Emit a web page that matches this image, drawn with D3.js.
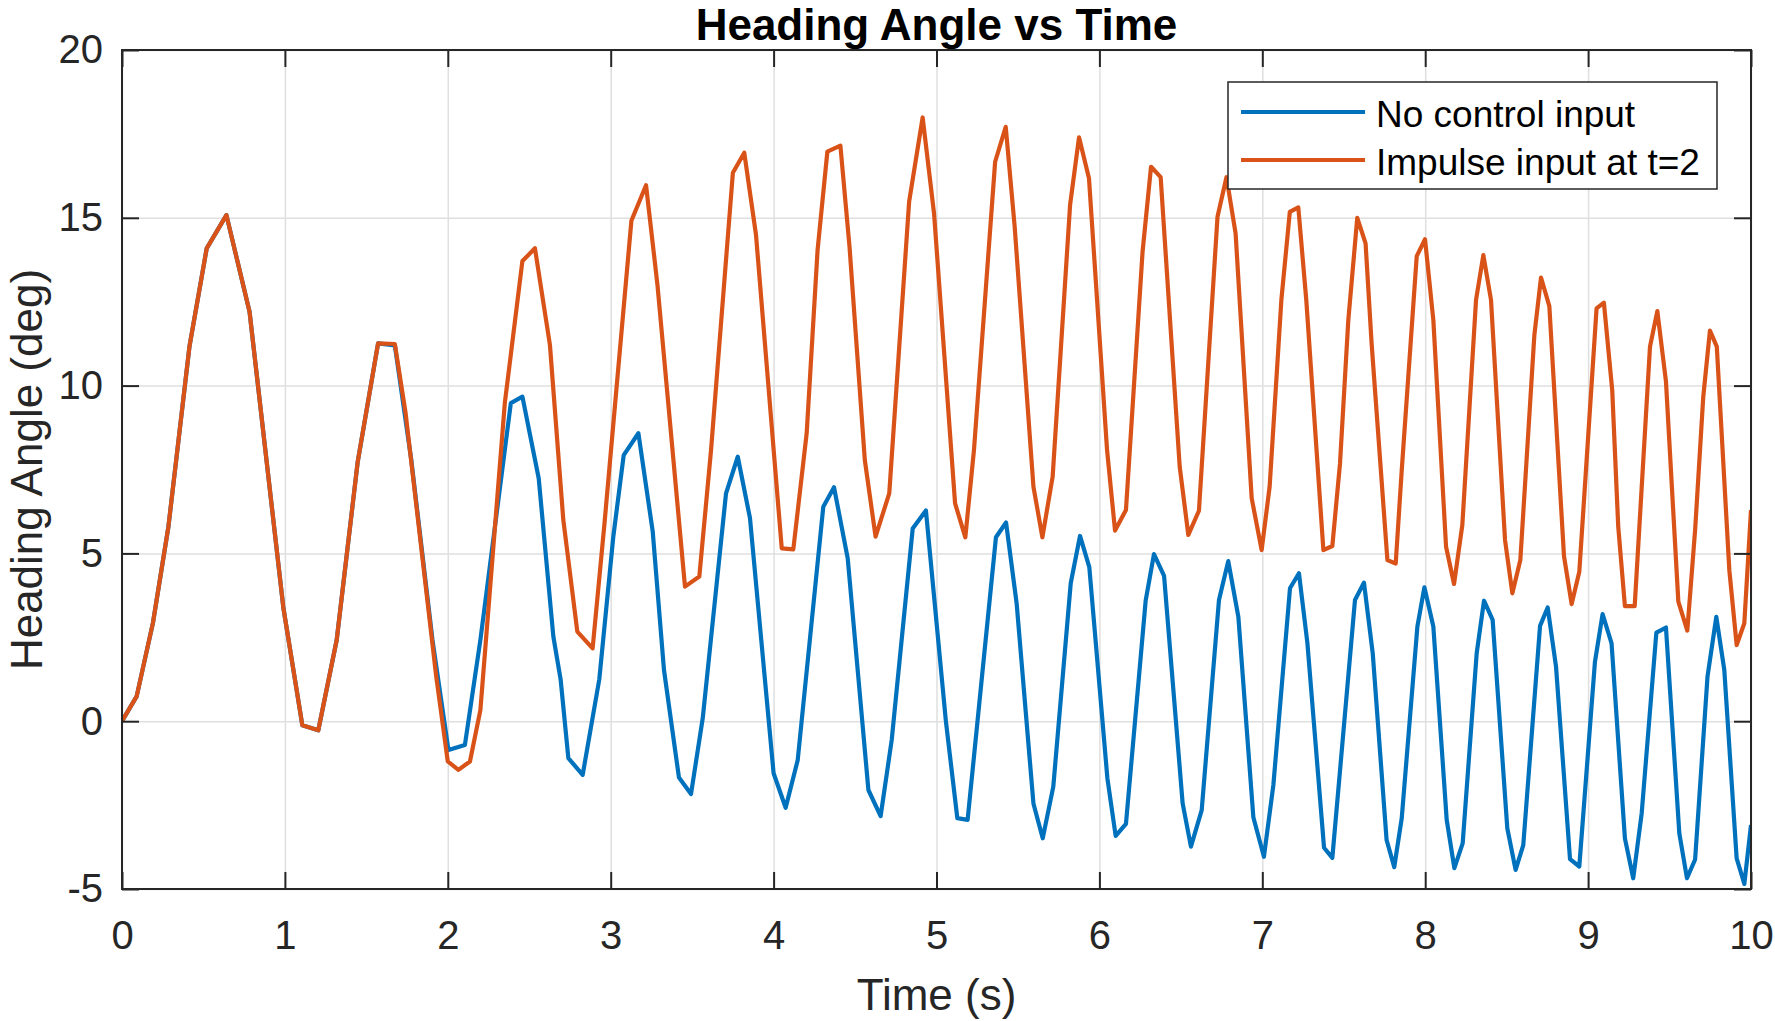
<!DOCTYPE html>
<html>
<head>
<meta charset="utf-8">
<script src="https://cdn.jsdelivr.net/npm/d3@7"></script>
<style>
  body { margin: 0; background: #fff; }
  text { font-family: "Liberation Sans", Arial, Helvetica, sans-serif; }
</style>
</head>
<body>
<div id="chart"></div>
<script>
// ---- data ----
const xTicks = [0, 1, 2, 3, 4, 5, 6, 7, 8, 9, 10];
const yTicks = [-5, 0, 5, 10, 15, 20];
const seriesNames = ["No control input", "Impulse input at t=2"];

// no control input
const tNoCtrl = [0, 0.09, 0.19, 0.285, 0.414, 0.52, 0.641, 0.783, 0.99, 1.107, 1.205, 1.318, 1.447, 1.572, 1.675,
  1.776, 1.906, 2.004, 2.105, 2.2, 2.387, 2.458, 2.558, 2.648, 2.693, 2.74, 2.828, 2.93, 3.016, 3.08, 3.17,
  3.258, 3.327, 3.419, 3.493, 3.565, 3.708, 3.78, 3.855, 4.0, 4.074, 4.148, 4.305, 4.371, 4.455, 4.582, 4.657,
  4.725, 4.854, 4.935, 5.058, 5.128, 5.191, 5.365, 5.427, 5.492, 5.595, 5.652, 5.717, 5.824, 5.881, 5.938,
  6.049, 6.1, 6.163, 6.284, 6.335, 6.397, 6.511, 6.562, 6.628, 6.734, 6.791, 6.853, 6.945, 7.01, 7.068, 7.17,
  7.225, 7.277, 7.379, 7.43, 7.569, 7.624, 7.678, 7.763, 7.81, 7.856, 7.952, 7.995, 8.05, 8.132, 8.179, 8.23,
  8.316, 8.361, 8.414, 8.504, 8.555, 8.602, 8.705, 8.752, 8.803, 8.889, 8.946, 9.042, 9.089, 9.144, 9.226,
  9.277, 9.329, 9.419, 9.478, 9.56, 9.607, 9.657, 9.733, 9.787, 9.836, 9.912, 9.959, 10.0];
const hNoCtrl = [0, 0.74, 2.93, 5.8, 11.16, 14.09, 15.08, 12.2, 3.4, -0.12, -0.27, 2.42, 7.73, 11.26, 11.2,
  7.78, 2.42, -0.86, -0.71, 2.42, 9.48, 9.67, 7.24, 2.52, 1.23, -1.1, -1.6, 1.25, 5.5, 7.93, 8.58,
  5.65, 1.53, -1.68, -2.17, 0.09, 6.79, 7.88, 6.05, -1.55, -2.58, -1.16, 6.39, 6.97, 4.85, -2.05, -2.83,
  -0.56, 5.74, 6.28, -0.02, -2.89, -2.94, 5.48, 5.92, 3.51, -2.45, -3.49, -1.95, 4.11, 5.52, 4.59,
  -1.7, -3.42, -3.06, 3.59, 4.98, 4.33, -2.45, -3.74, -2.65, 3.61, 4.77, 3.11, -2.86, -4.04, -1.9, 3.96,
  4.41, 2.32, -3.77, -4.07, 3.61, 4.13, 2.02, -3.54, -4.35, -2.89, 2.82, 3.99, 2.82, -2.94, -4.38, -3.64,
  2.02, 3.59, 3.02, -3.19, -4.43, -3.69, 2.84, 3.39, 1.63, -4.11, -4.33, 1.77, 3.19, 2.32, -3.49,
  -4.68, -2.74, 2.64, 2.79, -3.34, -4.68, -4.12, 1.33, 3.11, 1.53, -4.09, -4.85, -3.09];

// impulse input at t=2
const tImpulse = [0, 0.09, 0.19, 0.285, 0.414, 0.52, 0.641, 0.783, 0.99, 1.107, 1.205, 1.318, 1.447, 1.572, 1.675,
  1.741, 1.929, 2.0, 2.065, 2.136, 2.2, 2.35, 2.458, 2.535, 2.627, 2.709, 2.795, 2.889, 2.962, 3.127, 3.217,
  3.287, 3.456, 3.544, 3.616, 3.75, 3.82, 3.892, 4.05, 4.121, 4.203, 4.27, 4.33, 4.41, 4.466, 4.56, 4.626,
  4.71, 4.832, 4.915, 4.985, 5.114, 5.177, 5.23, 5.36, 5.425, 5.48, 5.595, 5.65, 5.713, 5.82, 5.875, 5.936,
  6.047, 6.096, 6.163, 6.265, 6.317, 6.376, 6.493, 6.546, 6.611, 6.725, 6.78, 6.836, 6.935, 6.996, 7.045,
  7.117, 7.169, 7.221, 7.27, 7.375, 7.43, 7.477, 7.528, 7.583, 7.634, 7.671, 7.768, 7.819, 7.856, 7.948,
  7.999, 8.05, 8.128, 8.177, 8.228, 8.312, 8.357, 8.404, 8.49, 8.535, 8.584, 8.67, 8.711, 8.762, 8.852,
  8.899, 8.946, 9.052, 9.097, 9.148, 9.185, 9.226, 9.286, 9.38, 9.425, 9.478, 9.554, 9.609, 9.657, 9.707,
  9.748, 9.79, 9.867, 9.912, 9.959, 10.0];
const hImpulse = [0, 0.74, 2.93, 5.8, 11.16, 14.09, 15.08, 12.2, 3.4, -0.12, -0.27, 2.42, 7.73, 11.26, 11.24,
  9.18, 1.33, -1.2, -1.45, -1.2, 0.33, 9.48, 13.71, 14.09, 11.21, 6.0, 2.67, 2.17, 5.9, 14.91, 15.97,
  13.0, 4.01, 4.31, 8.08, 16.34, 16.94, 14.49, 5.15, 5.12, 8.58, 14.04, 16.97, 17.15, 14.14, 7.78, 5.5,
  6.79, 15.48, 17.99, 15.13, 6.49, 5.48, 8.08, 16.67, 17.71, 14.73, 6.99, 5.48, 7.29, 15.38, 17.4, 16.18,
  8.08, 5.68, 6.29, 13.99, 16.52, 16.21, 7.58, 5.55, 6.27, 15.03, 16.21, 14.54, 6.64, 5.1, 6.99,
  12.55, 15.18, 15.31, 12.55, 5.1, 5.22, 7.68, 11.95, 15.0, 14.24, 11.26, 4.8, 4.7, 7.48, 13.86,
  14.36, 11.95, 5.2, 4.09, 5.85, 12.55, 13.89, 12.55, 5.4, 3.81, 4.8, 11.5, 13.22, 12.37, 4.92,
  3.49, 4.45, 12.3, 12.47, 9.87, 5.8, 3.43, 3.43, 11.16, 12.22, 10.12, 3.56, 2.7, 5.7, 9.67,
  11.64, 11.16, 4.5, 2.27, 2.92, 6.29];

// ---- layout ----
const width = 1775, height = 1021;
const plot = { left: 122, right: 1751, top: 50, bottom: 889 };
const axisColor = "#262626";
const colors = ["#0072BD", "#D95319"];

const svg = d3.select("#chart")
  .append("svg")
  .attr("width", width)
  .attr("height", height)
  .style("background", "#fff");

const x = d3.scaleLinear().domain([0, 10]).range([plot.left, plot.right]);
const y = d3.scaleLinear().domain([-5, 20]).range([plot.bottom, plot.top]);

// grid
svg.append("g")
  .attr("transform", `translate(0,${plot.bottom})`)
  .call(d3.axisBottom(x).tickValues(xTicks).tickSize(-(plot.bottom - plot.top)).tickFormat(""))
  .call(g => g.select(".domain").remove())
  .selectAll("line").attr("stroke", "#dfdfdf").attr("stroke-width", 1.5);

svg.append("g")
  .attr("transform", `translate(${plot.left},0)`)
  .call(d3.axisLeft(y).tickValues(yTicks).tickSize(-(plot.right - plot.left)).tickFormat(""))
  .call(g => g.select(".domain").remove())
  .selectAll("line").attr("stroke", "#dfdfdf").attr("stroke-width", 1.5);

// clip to the axes box
svg.append("clipPath").attr("id", "plotClip")
  .append("rect")
  .attr("x", plot.left).attr("y", plot.top)
  .attr("width", plot.right - plot.left).attr("height", plot.bottom - plot.top);

const line = d3.line().x(d => x(d[0])).y(d => y(d[1]));
const series = [
  d3.zip(tNoCtrl, hNoCtrl),
  d3.zip(tImpulse, hImpulse)
];

svg.append("g")
  .attr("clip-path", "url(#plotClip)")
  .selectAll("path")
  .data(series)
  .enter()
  .append("path")
  .attr("d", line)
  .attr("fill", "none")
  .attr("stroke", (d, i) => colors[i])
  .attr("stroke-width", 4.2)
  .attr("stroke-linejoin", "round");

// axes with inward ticks
const tickLen = 17;
const plainNum = d => String(d); // hyphen minus, like the original
const styleAxis = g => {
  g.select(".domain").remove();
  g.selectAll("line").attr("stroke", axisColor).attr("stroke-width", 2);
  g.selectAll("text").attr("fill", axisColor).style("font-size", "40px");
};

svg.append("g")
  .attr("transform", `translate(0,${plot.bottom})`)
  .call(d3.axisBottom(x).tickValues(xTicks).tickSizeInner(-tickLen).tickSizeOuter(0).tickPadding(32).tickFormat(plainNum))
  .call(styleAxis);

svg.append("g")
  .attr("transform", `translate(${plot.left},0)`)
  .call(d3.axisLeft(y).tickValues(yTicks).tickSizeInner(-tickLen).tickSizeOuter(0).tickPadding(19).tickFormat(plainNum))
  .call(styleAxis);

svg.append("g")
  .attr("transform", `translate(0,${plot.top})`)
  .call(d3.axisTop(x).tickValues(xTicks).tickSizeInner(-tickLen).tickSizeOuter(0).tickFormat(""))
  .call(styleAxis);

svg.append("g")
  .attr("transform", `translate(${plot.right},0)`)
  .call(d3.axisRight(y).tickValues(yTicks).tickSizeInner(-tickLen).tickSizeOuter(0).tickFormat(""))
  .call(styleAxis);

// box
svg.append("rect")
  .attr("x", plot.left).attr("y", plot.top)
  .attr("width", plot.right - plot.left).attr("height", plot.bottom - plot.top)
  .attr("fill", "none")
  .attr("stroke", axisColor)
  .attr("stroke-width", 2);

// title and labels
svg.append("text")
  .attr("x", (plot.left + plot.right) / 2)
  .attr("y", 40)
  .attr("text-anchor", "middle")
  .style("font-size", "44px")
  .style("font-weight", "bold")
  .attr("fill", "#000")
  .text("Heading Angle vs Time");

svg.append("text")
  .attr("x", (plot.left + plot.right) / 2)
  .attr("y", 1010)
  .attr("text-anchor", "middle")
  .style("font-size", "44px")
  .attr("fill", axisColor)
  .text("Time (s)");

svg.append("text")
  .attr("transform", `translate(42,${(plot.top + plot.bottom) / 2}) rotate(-90)`)
  .attr("text-anchor", "middle")
  .style("font-size", "44px")
  .attr("fill", axisColor)
  .text("Heading Angle (deg)");

// legend
const legend = svg.append("g").attr("transform", "translate(1228,82)");
legend.append("rect")
  .attr("width", 489).attr("height", 107)
  .attr("fill", "#fff")
  .attr("stroke", axisColor)
  .attr("stroke-width", 1.5);

const items = legend.selectAll("g.item")
  .data(seriesNames)
  .enter()
  .append("g")
  .attr("class", "item")
  .attr("transform", (d, i) => `translate(0,${30 + i * 48})`);

items.append("line")
  .attr("x1", 13).attr("x2", 137)
  .attr("stroke", (d, i) => colors[i])
  .attr("stroke-width", 4.2);

items.append("text")
  .attr("x", 148)
  .attr("y", 15)
  .style("font-size", "37px")
  .attr("fill", "#000")
  .text(d => d);
</script>
</body>
</html>
